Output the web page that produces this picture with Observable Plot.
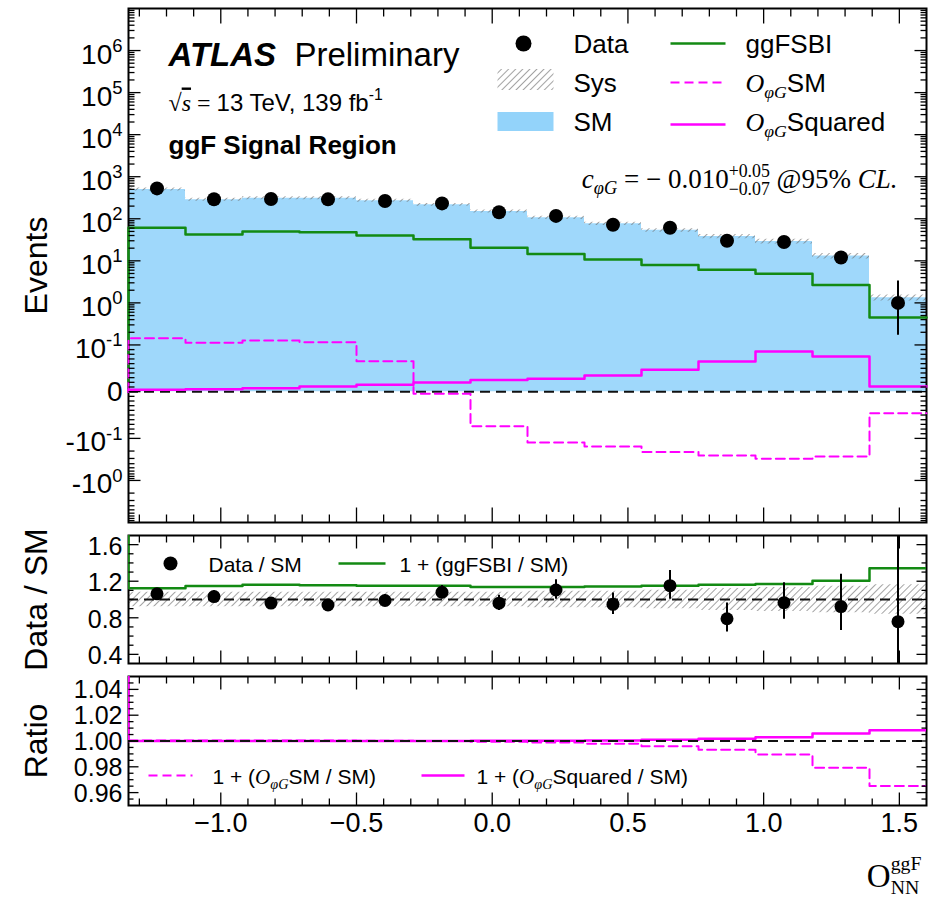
<!DOCTYPE html>
<html><head><meta charset="utf-8">
<script src="https://cdn.jsdelivr.net/npm/d3@7"></script>
<script src="https://cdn.jsdelivr.net/npm/@observablehq/plot@0.6"></script>
<style>
body{margin:0;background:#fff;}
#chart{position:relative;width:940px;height:897px;background:#fff;}
#chart svg{position:absolute;left:0;}
</style></head><body><div id="chart"></div>
<script>
// ---------------- data ----------------
const binEdges = [-1.34, -1.13, -0.92, -0.71, -0.50, -0.29, -0.08, 0.13, 0.34, 0.55, 0.76, 0.97, 1.18, 1.39, 1.60];
const dataCounts = [528, 292, 296, 290, 265, 232, 143, 117, 72, 61, 30, 28, 12, 1];
const dataErrLo  = [23.0, 17.1, 17.2, 17.0, 16.3, 15.2, 12.0, 10.8, 8.5, 7.8, 5.5, 5.3, 3.4, 0.83];
const dataErrHi  = [24.0, 18.1, 18.2, 18.0, 17.3, 16.2, 13.0, 11.8, 9.5, 8.8, 6.5, 6.3, 4.6, 2.3];
const smYield    = [497, 283, 308, 308.5, 268, 215, 149, 106, 76, 53, 38, 29, 13, 1.32];
const sysRel     = [0.08, 0.08, 0.08, 0.08, 0.08, 0.08, 0.08, 0.09, 0.09, 0.10, 0.12, 0.13, 0.145, 0.16];
const ggFSBI     = [61, 42, 49.5, 48, 40, 32.5, 20.5, 14.5, 10.8, 8.0, 6.1, 4.9, 2.65, 0.45];
const opgSM      = [0.145, 0.113, 0.128, 0.116, 0.065, -0.0045, -0.074, -0.125, -0.156, -0.212, -0.255, -0.305, -0.269, -0.046];
const opgSq      = [0.0041, 0.0054, 0.0075, 0.011, 0.0148, 0.0197, 0.025, 0.0276, 0.0347, 0.0469, 0.0646, 0.086, 0.0753, 0.011];

const xTickLabels = [-1.0, -0.5, 0.0, 0.5, 1.0, 1.5];
const mainTickValues = [1e6, 1e5, 1e4, 1e3, 1e2, 10, 1, 0.1, 0, -0.1, -1];
const mainTickLabels = ["10$sup{6}","10$sup{5}","10$sup{4}","10$sup{3}","10$sup{2}","10$sup{1}","10$sup{0}","10$sup{-1}","0","-10$sup{-1}","-10$sup{0}"];
const dsmTickValues = [0.4, 0.8, 1.2, 1.6];
const ratioTickValues = [0.96, 0.98, 1.00, 1.02, 1.04];

// ---------------- style ----------------
const SANS = "'Liberation Sans', Arial, Helvetica, sans-serif";
const SERIF = "'Liberation Serif', 'DejaVu Serif', serif";
const SMFILL = "#87cefa", GREEN = "#138a13", MAG = "#ff00ff";
const W = 940, ML = 128, MR = 14;
const xDomain = [binEdges[0], binEdges[binEdges.length - 1]];
const baseStyle = {fontFamily: SANS, fontSize: "26px", color: "black", background: "transparent", overflow: "visible"};

// matplotlib-like symlog (linthresh 0.1, linscale 1)
const LT = 0.1, LS = 1 / (1 - 0.1);
const sym = v => Math.abs(v) <= LT ? v / LT * LS : Math.sign(v) * (LS + Math.log10(Math.abs(v) / LT));

const centers = binEdges.slice(0, -1).map((e, i) => (e + binEdges[i + 1]) / 2);
function stepPts(vals, start) {
  const pts = [];
  if (start !== undefined) pts.push({x: binEdges[0], y: start});
  vals.forEach((v, i) => pts.push({x: binEdges[i], y: v}));
  pts.push({x: binEdges[binEdges.length - 1], y: vals[vals.length - 1]});
  return pts;
}
function bandPts(lo, hi) {
  const pts = lo.map((v, i) => ({x: binEdges[i], lo: v, hi: hi[i]}));
  pts.push({x: binEdges[binEdges.length - 1], lo: lo[lo.length - 1], hi: hi[hi.length - 1]});
  return pts;
}

// tick marks drawn inside the frame
const upShape = {draw(c, l) { c.moveTo(0, 0); c.lineTo(0, -l); }};
const hShape = {draw(c, l) { c.moveTo(0, 0); c.lineTo(l, 0); }};
function innerTicks(xs, ys, xLen, yLen, sw = 1.3) {
  const common = {stroke: "black", strokeWidth: sw, shape: upShape, anchor: "start", strokeLinecap: "butt"};
  const out = [];
  for (const [arr, len] of xs.map((a, k) => [a, xLen[k]])) {
    out.push(Plot.vector(arr, {...common, x: d => d, frameAnchor: "bottom", rotate: 0, length: len}));
    out.push(Plot.vector(arr, {...common, x: d => d, frameAnchor: "top", rotate: 180, length: len}));
  }
  for (const [arr, len] of ys.map((a, k) => [a, yLen[k]])) {
    out.push(Plot.vector(arr, {...common, y: d => d, frameAnchor: "left", rotate: 90, length: len}));
    out.push(Plot.vector(arr, {...common, y: d => d, frameAnchor: "right", rotate: -90, length: len}));
  }
  return out;
}
const xMajor = xTickLabels;
const xMinor = d3.range(-13, 16).filter(i => i % 5 !== 0).map(i => i / 10);

// legend helpers (positions in pixels relative to frame's top-left)
const legLine = (px, py, len, opts) => Plot.vector([0], {frameAnchor: "top-left", dx: px, dy: py, length: len, shape: hShape, anchor: "start", strokeLinecap: "butt", ...opts});
const legText = (s, px, py, size, opts = {}) => Plot.text([s], {text: d => d, frameAnchor: "top-left", dx: px, dy: py, textAnchor: "start", lineAnchor: "bottom", fontSize: size, ...opts});
const yTitle = s => Plot.text([s], {text: d => d, frameAnchor: "left", dx: -92, rotate: -90, textAnchor: "middle", lineAnchor: "middle", fontSize: 32});
const dashed0 = {stroke: "#111", strokeWidth: 2, strokeDasharray: "10,6"};

// ---------------- main panel ----------------
const mainTop = 8;
const mainMajorY = [1e6,1e5,1e4,1e3,1e2,10,1,0.1,0,-0.1,-1].map(sym);
const mainMinorY = [];
for (let k = -1; k <= 6; k++) for (let m = 2; m <= 9; m++) mainMinorY.push(sym(m * 10 ** k));
for (let m = 1; m <= 9; m++) { mainMinorY.push(sym(m / 100)); mainMinorY.push(sym(-m / 100)); }
for (let k = -1; k <= 0; k++) for (let m = 2; m <= 9; m++) mainMinorY.push(sym(-m * 10 ** k));
const mainLabelMap = new Map(mainTickValues.map((v, i) => [sym(v), mainTickLabels[i]]));

const dataRows = centers.map((x, i) => ({
  x, y: sym(dataCounts[i]), y1: sym(Math.max(dataCounts[i] - dataErrLo[i], 0)), y2: sym(dataCounts[i] + dataErrHi[i])
}));

const main = Plot.plot({
  width: W, height: 526, marginTop: mainTop, marginBottom: 4, marginLeft: ML, marginRight: MR,
  x: {domain: xDomain, axis: null},
  y: {domain: [sym(-10), sym(1e7)]},
  style: baseStyle,
  marks: [
    Plot.areaY(stepPts(smYield), {x: "x", y: d => sym(d.y), curve: "step-after", fill: SMFILL, fillOpacity: 0.8}),
    Plot.areaY(bandPts(smYield.map((v, i) => sym(v * (1 - sysRel[i]))), smYield.map((v, i) => sym(v * (1 + sysRel[i])))),
      {x: "x", y1: "lo", y2: "hi", curve: "step-after", fill: "url(#hatch)"}),
    Plot.frame({stroke: "black", strokeWidth: 2}),
    Plot.ruleY([0], dashed0),
    Plot.line(stepPts(ggFSBI, 0), {x: "x", y: d => sym(d.y), curve: "step-after", stroke: GREEN, strokeWidth: 2.5}),
    Plot.line(stepPts(opgSM, 0), {x: "x", y: d => sym(d.y), curve: "step-after", stroke: MAG, strokeWidth: 2, strokeDasharray: "9,5"}),
    Plot.line(stepPts(opgSq, 0), {x: "x", y: d => sym(d.y), curve: "step-after", stroke: MAG, strokeWidth: 2.5}),
    Plot.ruleX(dataRows, {x: "x", y1: "y1", y2: "y2", stroke: "black", strokeWidth: 2}),
    Plot.dot(dataRows, {x: "x", y: "y", r: 7, fill: "black"}),
    ...innerTicks([xMajor, xMinor], [mainMajorY, mainMinorY], [15, 8], [12, 6]),
    Plot.axisY(mainTickValues.filter(v => v !== 0).map(sym), {anchor: "left", tickSize: 0, tickPadding: 6, dy: 4, fontSize: 28, label: null, tickFormat: d => mainLabelMap.get(d)}),
    Plot.axisY([sym(0)], {anchor: "left", tickSize: 0, tickPadding: 6, fontSize: 28, label: null, tickFormat: d => mainLabelMap.get(d)}),
    yTitle("Events"),
    // title block
    legText("$bi{ATLAS}\u00a0\u00a0Preliminary", 168 - ML, 65 - mainTop, 33),
    legText("$rm{√}$ov{$it{s}}$rm{\u00a0=\u00a0}13 TeV, 139 fb$sup{-1}", 168 - ML, 110 - mainTop, 24),
    legText("ggF Signal Region", 168 - ML, 153 - mainTop, 26, {fontWeight: "bold"}),
    // legend
    Plot.dot([0], {frameAnchor: "top-left", dx: 523 - ML, dy: 43 - mainTop, r: 8, fill: "black"}),
    legLine(497 - ML, 79 - mainTop, 56, {stroke: "url(#hatch)", strokeWidth: 21}),
    legLine(497 - ML, 121 - mainTop, 56, {stroke: SMFILL, strokeOpacity: 0.9, strokeWidth: 19}),
    legText("Data", 573 - ML, 52 - mainTop, 26),
    legText("Sys", 573 - ML, 91 - mainTop, 26),
    legText("SM", 573 - ML, 130 - mainTop, 26),
    legLine(670 - ML, 43 - mainTop, 55, {stroke: GREEN, strokeWidth: 2.5}),
    legLine(670 - ML, 82 - mainTop, 55, {stroke: MAG, strokeWidth: 2, strokeDasharray: "9,5"}),
    legLine(670 - ML, 124 - mainTop, 55, {stroke: MAG, strokeWidth: 2.5}),
    legText("ggFSBI", 745 - ML, 52 - mainTop, 26),
    legText("$it{O}$sub{$it{φG}}SM", 745 - ML, 91 - mainTop, 26),
    legText("$it{O}$sub{$it{φG}}Squared", 745 - ML, 130 - mainTop, 26),
    Plot.text(["$it{c}$sub{$it{φG}}$rm{\u00a0=\u00a0−\u00a00.010}$stack{$rm{+0.05}}{$rm{−0.07}}$rm{\u00a0@95%\u00a0}$it{CL.}"],
      {text: d => d, frameAnchor: "top-right", dx: -(W - MR - 897), dy: 187 - mainTop, textAnchor: "end", lineAnchor: "bottom", fontSize: 27, fontFamily: SERIF})
  ]
});

// ---------------- Data / SM panel ----------------
const dsmTop = 9;
const ratioRows = centers.map((x, i) => ({
  x, r: dataCounts[i] / smYield[i],
  lo: (dataCounts[i] - dataErrLo[i]) / smYield[i], hi: (dataCounts[i] + dataErrHi[i]) / smYield[i]
}));
const dsmMinor = d3.range(4, 17).filter(i => i % 4 !== 0).map(i => i / 10);
const dsm = Plot.plot({
  width: W, height: 144, marginTop: dsmTop, marginBottom: 7, marginLeft: ML, marginRight: MR,
  x: {domain: xDomain, axis: null},
  y: {domain: [0.3, 1.7]},
  style: baseStyle,
  marks: [
    Plot.areaY(bandPts(sysRel.map(s => 1 - s), sysRel.map(s => 1 + s)), {x: "x", y1: "lo", y2: "hi", curve: "step-after", fill: "url(#hatch)"}),
    Plot.frame({stroke: "black", strokeWidth: 2}),
    Plot.ruleY([1], dashed0),
    Plot.line(stepPts(ggFSBI.map((v, i) => 1 + v / smYield[i]), 1.7), {x: "x", y: "y", curve: "step-after", stroke: GREEN, strokeWidth: 2.5, clip: true}),
    Plot.ruleX(ratioRows, {x: "x", y1: "lo", y2: "hi", stroke: "black", strokeWidth: 2, clip: true}),
    Plot.dot(ratioRows, {x: "x", y: "r", r: 6.5, fill: "black"}),
    ...innerTicks([xMajor, xMinor], [dsmTickValues, dsmMinor], [13, 7], [10, 5]),
    Plot.axisY(dsmTickValues, {anchor: "left", tickSize: 0, tickPadding: 6, dy: 2, fontSize: 25, label: null, tickFormat: d3.format(".1f")}),
    yTitle("Data / SM"),
    Plot.dot([0], {frameAnchor: "top-left", dx: 170 - ML, dy: 563 - 526 - dsmTop, r: 7, fill: "black"}),
    legText("Data / SM", 208 - ML, 571 - 526 - dsmTop, 21),
    legLine(338 - ML, 563 - 526 - dsmTop, 47, {stroke: GREEN, strokeWidth: 2.5}),
    legText("1 + (ggFSBI / SM)", 399 - ML, 571 - 526 - dsmTop, 21)
  ]
});

// ---------------- Ratio panel ----------------
const ratTop = 6;
const ratMinor = d3.range(191, 210).filter(i => i % 4 !== 0).map(i => i * 0.005);
const rat = Plot.plot({
  width: W, height: 227, marginTop: ratTop, marginBottom: 92, marginLeft: ML, marginRight: MR,
  x: {domain: xDomain},
  y: {domain: [0.95, 1.05]},
  style: baseStyle,
  marks: [
    Plot.frame({stroke: "black", strokeWidth: 2}),
    Plot.line(stepPts(opgSM.map((v, i) => 1 + v / smYield[i])), {x: "x", y: "y", curve: "step-after", stroke: MAG, strokeWidth: 2, strokeDasharray: "9,5", clip: true}),
    Plot.line(stepPts(opgSq.map((v, i) => 1 + v / smYield[i]), 1.05), {x: "x", y: "y", curve: "step-after", stroke: MAG, strokeWidth: 2.5, clip: true}),
    Plot.ruleY([1], dashed0),
    ...innerTicks([xMajor, xMinor], [ratioTickValues, ratMinor], [13, 7], [10, 5]),
    Plot.axisY(ratioTickValues, {anchor: "left", tickSize: 0, tickPadding: 6, dy: 1, fontSize: 25, label: null, tickFormat: d3.format(".2f")}),
    Plot.axisX(xTickLabels, {anchor: "bottom", tickSize: 0, tickPadding: 7, fontSize: 27, label: null, tickFormat: d3.format(".1f")}),
    yTitle("Ratio"),
    Plot.text(["O$stackl{ggF}{NN}"], {text: d => d, frameAnchor: "bottom-right", dx: -5, dy: 886 - 805, textAnchor: "end", lineAnchor: "bottom", fontSize: 33, fontFamily: SERIF}),
    legLine(148 - ML, 775 - 670 - ratTop, 44, {stroke: MAG, strokeWidth: 2, strokeDasharray: "9,5"}),
    legText("1 + ($it{O}$sub{$it{φG}}SM / SM)", 212 - ML, 783 - 670 - ratTop, 21),
    legLine(421 - ML, 775 - 670 - ratTop, 43, {stroke: MAG, strokeWidth: 2.5}),
    legText("1 + ($it{O}$sub{$it{φG}}Squared / SM)", 476 - ML, 783 - 670 - ratTop, 21)
  ]
});

// ---------------- assemble ----------------
const chart = document.getElementById("chart");
main.style.top = "0px"; dsm.style.top = "526px"; rat.style.top = "670px";
chart.append(main, dsm, rat);

// hatch pattern
const defs = d3.select(main).insert("defs", ":first-child");
const pat = defs.append("pattern").attr("id", "hatch").attr("patternUnits", "userSpaceOnUse")
  .attr("width", 5).attr("height", 5).attr("patternTransform", "rotate(45)");
pat.append("line").attr("x1", 0).attr("y1", 0).attr("x2", 0).attr("y2", 5).attr("stroke", "#707070").attr("stroke-width", 1.3);

// rich text: $sup{} $sub{} $it{} $rm{} $bi{} $ov{} $stack{}{} $stackl{}{}
function parseRich(s) {
  let i = 0;
  function seq(inBrace) {
    const out = []; let buf = "";
    while (i < s.length) {
      const c = s[i];
      if (c === "}" && inBrace) { i++; break; }
      if (c === "$") {
        if (buf) { out.push(buf); buf = ""; }
        i++; let name = "";
        while (i < s.length && /[a-z]/.test(s[i])) name += s[i++];
        const n = name.startsWith("stack") ? 2 : 1, args = [];
        for (let k = 0; k < n; k++) { i++; args.push(seq(true)); }
        out.push({name, args});
      } else { buf += c; i++; }
    }
    if (buf) out.push(buf);
    return out;
  }
  return seq(false);
}
function richify(el) {
  const raw = el.textContent;
  if (!raw.includes("$")) return;
  const base = parseFloat(getComputedStyle(el).fontSize);
  while (el.firstChild) el.removeChild(el.firstChild);
  const ns = "http://www.w3.org/2000/svg";
  let cur = 0, pendingDx = 0;
  const add = (str, st) => {
    const t = document.createElementNS(ns, "tspan");
    t.textContent = str;
    if (Math.abs(st.shift - cur) > 1e-6) { t.setAttribute("dy", (st.shift - cur).toFixed(2)); cur = st.shift; }
    if (pendingDx) { t.setAttribute("dx", pendingDx.toFixed(2)); pendingDx = 0; }
    t.setAttribute("font-size", st.size.toFixed(2));
    if (st.italic) t.setAttribute("font-style", "italic");
    if (st.bold) t.setAttribute("font-weight", "bold");
    if (st.family) t.setAttribute("font-family", st.family);
    if (st.over) t.setAttribute("text-decoration", "overline");
    el.appendChild(t);
  };
  const emit = (nodes, st) => {
    for (const n of nodes) {
      if (typeof n === "string") { add(n, st); continue; }
      const [a, b] = n.args;
      if (n.name === "sup") emit(a, {...st, shift: st.shift - st.size * 0.42, size: st.size * 0.66});
      else if (n.name === "sub") emit(a, {...st, shift: st.shift + st.size * 0.24, size: st.size * 0.68});
      else if (n.name === "it") emit(a, {...st, italic: true, family: SERIF});
      else if (n.name === "rm") emit(a, {...st, family: SERIF});
      else if (n.name === "bi") emit(a, {...st, italic: true, bold: true});
      else if (n.name === "ov") emit(a, {...st, over: true});
      else if (n.name === "stack" || n.name === "stackl") {
        const low = n.name === "stackl";
        const sz = st.size * (low ? 0.6 : 0.66);
        const before = el.childNodes.length;
        emit(a, {...st, shift: st.shift - st.size * (low ? 0.50 : 0.40), size: sz});
        let w = 0;
        for (let k = before; k < el.childNodes.length; k++) w += el.childNodes[k].getComputedTextLength();
        pendingDx = -w;
        emit(b, {...st, shift: st.shift + st.size * (low ? 0.22 : 0.28), size: sz});
      }
    }
  };
  emit(parseRich(raw), {shift: 0, size: base});
}
for (const svg of [main, dsm, rat]) svg.querySelectorAll("text").forEach(richify);
</script>
</body></html>
